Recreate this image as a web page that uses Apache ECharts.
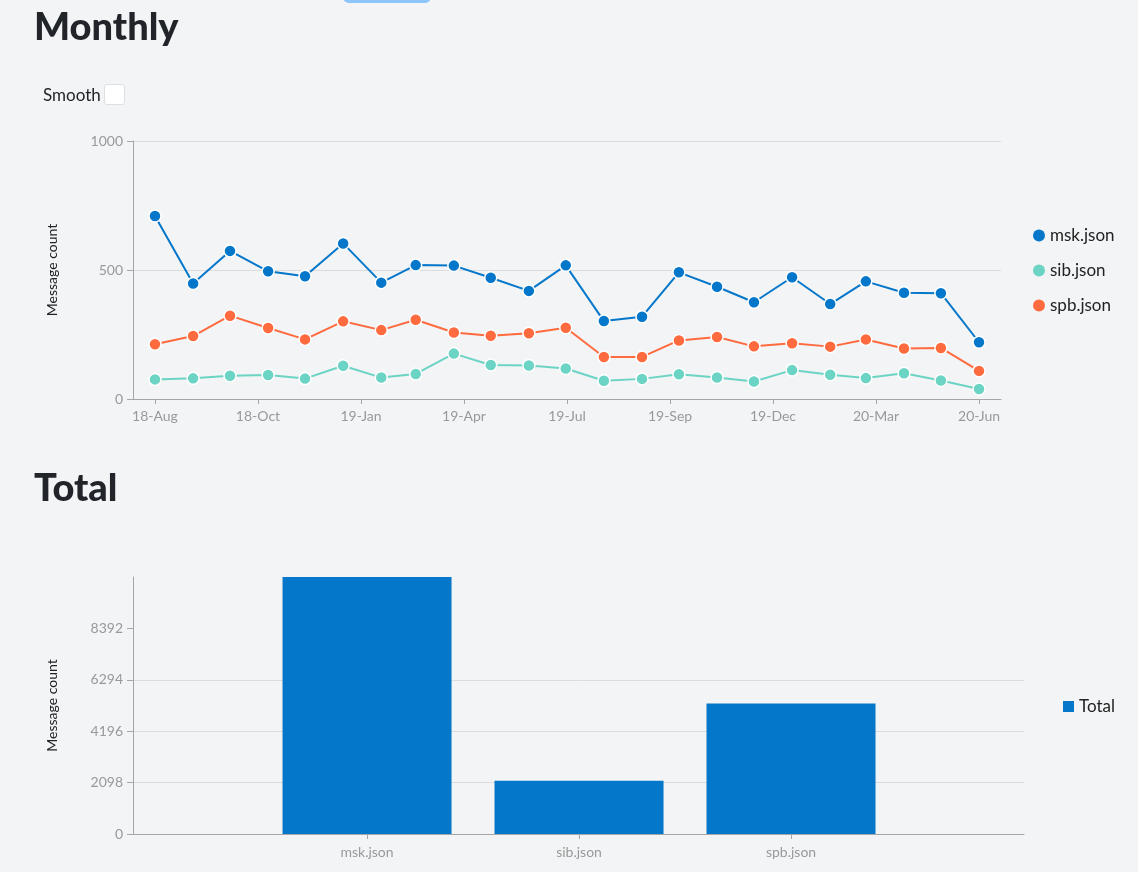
<!DOCTYPE html>
<html>
<head>
<meta charset="utf-8">
<script src="https://cdn.jsdelivr.net/npm/echarts@6/dist/echarts.min.js"></script>
<style>
  html, body { margin: 0; padding: 0; background: #f3f4f6; overflow: hidden; }
  body { width: 1138px; height: 872px; position: relative; font-family: Lato, "Open Sans", sans-serif; color: #212529; }
  #chart { position: absolute; left: 0; top: 0; width: 1138px; height: 872px; }
  .h { position: absolute; margin: 0; font-weight: 900; font-size: 38px; line-height: 1; color: #212529; z-index: 2; }
  #btn { position: absolute; left: 343px; top: -30px; width: 88px; height: 33px; background: #8ec5fc; border-radius: 6px; z-index: 2; }
  #smooth { position: absolute; left: 43px; top: 84px; font-size: 17px; line-height: 20px; z-index: 2; display: flex; align-items: center; }
  #smooth span.box { display: inline-block; width: 19px; height: 19px; background: #fff; border: 1px solid #dcdfe3; border-radius: 3px; margin-left: 3px; cursor: pointer; }
</style>
</head>
<body>
<div id="chart"></div>
<div id="btn"></div>
<h1 class="h" style="left:34px;top:6px;">Monthly</h1>
<div id="smooth">Smooth<span class="box" id="smoothBox"></span></div>
<h1 class="h" style="left:34px;top:467px;">Total</h1>
<script>
// ---- data ----
const months = ['2018-08','2018-09','2018-10','2018-11','2018-12','2019-01','2019-02','2019-03','2019-04','2019-05','2019-06','2019-07',
                '2019-08','2019-09','2019-10','2019-11','2019-12','2020-01','2020-02','2020-03','2020-04','2020-05','2020-06'];
const msk = [709, 448, 574, 495, 476, 603, 451, 519, 517, 470, 419, 518, 302, 319, 491, 435, 375, 472, 368, 456, 412, 410, 220];
const sib = [76, 80, 90, 93, 79, 129, 83, 97, 176, 132, 130, 118, 71, 78, 96, 83, 68, 112, 94, 81, 100, 72, 39];
const spb = [212, 244, 323, 275, 231, 301, 267, 307, 258, 245, 255, 276, 163, 163, 227, 240, 204, 216, 203, 231, 196, 198, 109];
const monthTickLabels = ['18-Aug','18-Oct','19-Jan','19-Apr','19-Jul','19-Sep','19-Dec','20-Mar','20-Jun'];
const monthlyYTicks = [0, 500, 1000];
const files = ['msk.json', 'sib.json', 'spb.json'];
const totals = [10490, 2170, 5330];
const totalYTicks = [0, 2098, 4196, 6294, 8392];

// ---- derived ----
function dayOf(m) { const [y, mo] = m.split('-').map(Number); return Date.UTC(y, mo - 1, 1) / 864e5; }
const day0 = dayOf(months[0]);
const days = months.map(m => dayOf(m) - day0);
const span = days[days.length - 1];
const step = span / (monthTickLabels.length - 1);
const xTickPos = monthTickLabels.map((_, i) => i * step);
const pad = span * 0.02667;

const colors = { 'msk.json': '#0477ca', 'sib.json': '#6cd4c4', 'spb.json': '#ff6b3f' };
const seriesVals = { 'msk.json': msk, 'sib.json': sib, 'spb.json': spb };

const axisGray = '#a6a6a6';
const labelGray = '#999999';
const gridGray = '#dcdcdc';
const FONT = 'Lato';
const plain = v => String(v);

const chart = echarts.init(document.getElementById('chart'), null, { renderer: 'canvas' });

function buildOption(smooth) {
  return {
    backgroundColor: '#f3f4f6',
    animation: false,
    textStyle: { fontFamily: FONT },
    grid: [
      { left: 133, top: 141, width: 868, height: 258 },
      { left: 133, top: 577, width: 891, height: 257 }
    ],
    legend: [
      { data: files, orient: 'vertical', left: 1033, top: 227, padding: 0, icon: 'circle', itemWidth: 12, itemHeight: 12, itemGap: 18,
        itemStyle: { borderWidth: 0 },
        textStyle: { fontSize: 17, color: '#222', fontFamily: FONT } },
      { data: ['Total'], orient: 'vertical', left: 1063, top: 698, padding: 0, icon: 'rect', itemWidth: 11, itemHeight: 11,
        textStyle: { fontSize: 17, color: '#222', fontFamily: FONT } }
    ],
    xAxis: [
      { type: 'value', gridIndex: 0, min: -pad, max: span + pad,
        axisLine: { show: true, onZero: false, lineStyle: { color: axisGray } },
        axisTick: { show: true, customValues: xTickPos, length: 5, lineStyle: { color: axisGray } },
        axisLabel: { customValues: xTickPos, color: labelGray, fontSize: 14, margin: 10,
          formatter: v => monthTickLabels[Math.round(v / step)] },
        splitLine: { show: false } },
      { type: 'value', gridIndex: 1, min: -1.104, max: 3.099,
        axisLine: { show: true, onZero: false, lineStyle: { color: axisGray } },
        axisTick: { show: true, customValues: files.map((_, i) => i), length: 5, lineStyle: { color: axisGray } },
        axisLabel: { customValues: files.map((_, i) => i), color: labelGray, fontSize: 14, margin: 11,
          formatter: v => files[Math.round(v)] },
        splitLine: { show: false } }
    ],
    yAxis: [
      { type: 'value', gridIndex: 0, min: monthlyYTicks[0], max: monthlyYTicks[monthlyYTicks.length - 1], interval: monthlyYTicks[1],
        name: 'Message count', nameLocation: 'middle', nameRotate: 90, nameGap: 74,
        nameTextStyle: { color: '#222', fontSize: 14, fontFamily: FONT },
        axisLine: { show: true, onZero: false, lineStyle: { color: axisGray } },
        axisTick: { show: true, length: 6, lineStyle: { color: axisGray } },
        axisLabel: { color: labelGray, fontSize: 14, margin: 10, formatter: plain },
        splitLine: { show: true, lineStyle: { color: gridGray } } },
      { type: 'value', gridIndex: 1, min: 0, max: 'dataMax', interval: totalYTicks[1],
        name: 'Message count', nameLocation: 'middle', nameRotate: 90, nameGap: 74,
        nameTextStyle: { color: '#222', fontSize: 14, fontFamily: FONT },
        axisLine: { show: true, onZero: false, lineStyle: { color: axisGray } },
        axisTick: { show: true, customValues: totalYTicks, length: 6, lineStyle: { color: axisGray } },
        axisLabel: { customValues: totalYTicks, color: labelGray, fontSize: 14, margin: 10, formatter: plain },
        splitLine: { show: true, showMaxLine: false, lineStyle: { color: gridGray } } }
    ],
    series: files.map(f => ({
      name: f, type: 'line', xAxisIndex: 0, yAxisIndex: 0, smooth: smooth,
      data: seriesVals[f].map((v, i) => [days[i], v]),
      symbol: 'circle', symbolSize: 12, showSymbol: true,
      itemStyle: { color: colors[f], borderColor: '#fff', borderWidth: 1.5 },
      lineStyle: { color: colors[f], width: 2 }
    })).concat([{
      name: 'Total', type: 'bar', xAxisIndex: 1, yAxisIndex: 1, barWidth: 169,
      data: totals.map((v, i) => [i, v]),
      itemStyle: { color: '#0477ca' }
    }])
  };
}
let smoothOn = false;
chart.setOption(buildOption(smoothOn));
document.getElementById('smoothBox').addEventListener('click', () => {
  smoothOn = !smoothOn;
  document.getElementById('smoothBox').style.background = smoothOn ? '#0477ca' : '#fff';
  chart.setOption(buildOption(smoothOn), true);
});
</script>
</body>
</html>
